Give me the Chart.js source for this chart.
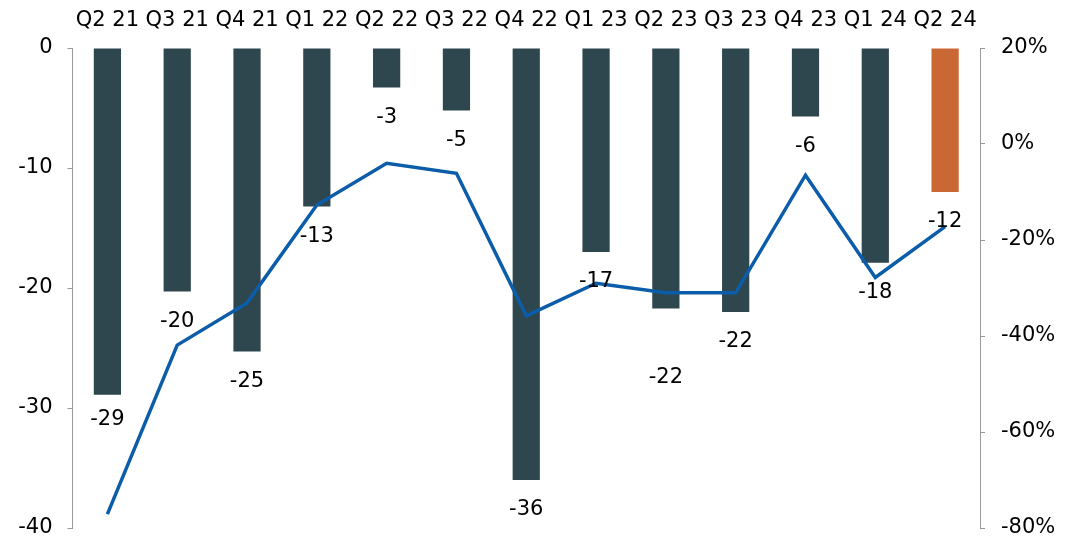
<!DOCTYPE html>
<html>
<head>
<meta charset="utf-8">
<script src="https://cdn.jsdelivr.net/npm/chart.js@4.4.1/dist/chart.umd.min.js"></script>
<style>
  html, body { margin: 0; padding: 0; background: #ffffff; }
  #wrap { width: 1065px; height: 539px; position: relative; }
</style>
</head>
<body>
<div id="wrap"><canvas id="c" width="1065" height="539"></canvas></div>
<script>
const categories = ["Q2 21","Q3 21","Q4 21","Q1 22","Q2 22","Q3 22","Q4 22","Q1 23","Q2 23","Q3 23","Q4 23","Q1 24","Q2 24"];
const barValues = [-28.9, -20.3, -25.3, -13.2, -3.3, -5.2, -36.0, -17.0, -21.7, -22.0, -5.7, -17.9, -12.0];
const barLabels = ["-29","-20","-25","-13","-3","-5","-36","-17","-22","-22","-6","-18","-12"];
const lineValues = [-77.1, -41.9, -33.1, -12.7, -4.0, -6.1, -35.8, -29.0, -31.0, -31.0, -6.5, -27.8, -17.2];
const leftTicks = [0, -10, -20, -30, -40];
const rightTicks = ["20%", "0%", "-20%", "-40%", "-60%", "-80%"];

const FONT = "DejaVu Sans";
const DARK = "#2E464E";
const ORANGE = "#C96834";
const LINE = "#0B5DAA";
const AXIS = "#9a9a9a";
const labelOffsets = [25,30,30,30,30,30,30,30,69,30,30,30,30];

const barColors = categories.map((c, i) => i === categories.length - 1 ? ORANGE : DARK);

const valueLabels = {
  id: 'valueLabels',
  afterDatasetsDraw(chart) {
    const meta = chart.getDatasetMeta(1);
    const ctx = chart.ctx;
    ctx.save();
    ctx.font = "21px '" + FONT + "'";
    ctx.fillStyle = "#000";
    ctx.textAlign = "center";
    ctx.textBaseline = "middle";
    meta.data.forEach((bar, i) => {
      ctx.fillText(barLabels[i], bar.x, bar.y + labelOffsets[i]);
    });
    ctx.restore();
  }
};

new Chart(document.getElementById('c'), {
  data: {
    labels: categories,
    datasets: [
      {
        type: 'line',
        data: lineValues,
        yAxisID: 'yR',
        borderColor: LINE,
        borderWidth: 3.5,
        pointRadius: 0,
        tension: 0,
        order: 0
      },
      {
        type: 'bar',
        data: barValues,
        yAxisID: 'y',
        backgroundColor: barColors,
        barPercentage: 0.39,
        categoryPercentage: 1.0,
        order: 1
      }
    ]
  },
  options: {
    responsive: false,
    animation: false,
    devicePixelRatio: 1,
    layout: { padding: { left: 0, right: 0, top: 0, bottom: 11 } },
    plugins: { legend: { display: false }, tooltip: { enabled: false } },
    scales: {
      x: {
        position: 'top',
        offset: true,
        grid: { display: false, drawTicks: false, tickLength: 0 },
        border: { display: false },
        ticks: { color: "#000", font: { family: FONT, size: 21 }, padding: 15, maxRotation: 0, autoSkip: false },
        afterFit(s) { s.height = 48; s.paddingLeft = 0; s.paddingRight = 0; }
      },
      y: {
        position: 'left',
        min: -40, max: 0,
        grid: { drawOnChartArea: false, color: AXIS, tickLength: 5 },
        border: { color: AXIS, width: 1 },
        ticks: {
          stepSize: 10, color: "#000", font: { family: FONT, size: 21 }, padding: 15,
          callback: (v) => { const i = leftTicks.indexOf(v); return i >= 0 ? String(leftTicks[i]) : null; }
        },
        afterFit(s) { s.width = 72.5; s.paddingTop = 0; s.paddingBottom = 0; }
      },
      yR: {
        position: 'right',
        min: -80, max: 20,
        grid: { drawOnChartArea: false, color: AXIS, tickLength: 5 },
        border: { color: AXIS, width: 1 },
        ticks: {
          stepSize: 20, color: "#000", font: { family: FONT, size: 21 }, padding: 16,
          callback: (v) => rightTicks[Math.round((20 - v) / 20)]
        },
        afterFit(s) { s.width = 85; s.paddingTop = 0; s.paddingBottom = 0; }
      }
    }
  },
  plugins: [valueLabels]
});
</script>
</body>
</html>
